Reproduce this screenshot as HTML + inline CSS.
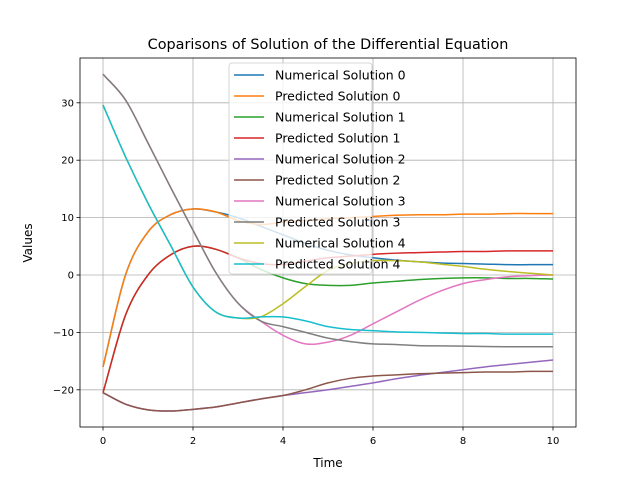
<!DOCTYPE html>
<html><head><meta charset="utf-8"><style>
body{margin:0;background:#fff;}
svg{display:block;font-family:"DejaVu Sans","Liberation Sans",sans-serif;}
</style></head><body>
<svg id="chart" width="640" height="480" viewBox="0 0 640 480">
<rect width="640" height="480" fill="#fff"/>
<text x="328" y="49" text-anchor="middle" font-size="14.4">Coparisons of Solution of the Differential Equation</text>
<g id="grid"></g><g id="series"></g><g id="axes"></g><g id="legend"></g>
<text x="328" y="467" text-anchor="middle" font-size="12">Time</text>
<text transform="translate(32,243) rotate(-90)" text-anchor="middle" font-size="12">Values</text>
</svg>
<script>
const times=[0,0.5,1,1.5,2,2.5,3,3.5,4,4.5,5,5.5,6,6.5,7,7.5,8,8.5,9,9.5,10];
const num0=[-16,0,7.5,10.5,11.5,11,10,8.5,7,5.5,4.3,3.5,3,2.6,2.3,2.1,2,1.9,1.8,1.8,1.8];
const pred0=[-16,0,7.5,10.5,11.5,11,9.5,8.8,9.2,9.5,9.8,10,10.2,10.4,10.5,10.5,10.6,10.6,10.7,10.7,10.7];
const num1=[-20.5,-7,0,3.5,5,4.5,3,1,-0.5,-1.5,-1.8,-1.8,-1.4,-1.1,-0.8,-0.6,-0.5,-0.5,-0.6,-0.6,-0.7];
const pred1=[-20.5,-7,0,3.5,5,4.5,3,2,1.8,2.4,3,3.3,3.6,3.8,3.9,4,4.1,4.1,4.2,4.2,4.2];
const num2=[-20.5,-22.5,-23.5,-23.7,-23.4,-23,-22.3,-21.6,-21,-20.5,-20,-19.4,-18.8,-18.1,-17.5,-17,-16.5,-16,-15.6,-15.2,-14.8];
const pred2=[-20.5,-22.5,-23.5,-23.7,-23.4,-23,-22.3,-21.6,-21,-20,-18.8,-18,-17.6,-17.4,-17.2,-17.1,-17,-16.9,-16.9,-16.8,-16.8];
const num3=[35,30.5,23,15.3,7.8,0.5,-4.9,-8,-10.5,-12,-11.7,-10.5,-8.5,-6.5,-4.5,-2.8,-1.5,-0.8,-0.3,-0.1,0];
const pred3=[35,30.5,23,15.3,7.8,0.5,-4.9,-8,-9,-10,-11,-11.6,-12,-12.1,-12.3,-12.35,-12.4,-12.45,-12.5,-12.5,-12.5];
const num4=[29.6,20.6,12.5,5.2,-2.1,-6.4,-7.5,-7.3,-5,-2,0.8,2,2.5,2.5,2.3,1.9,1.5,1.0,0.6,0.3,0];
const pred4=[29.6,20.6,12.5,5.2,-2.1,-6.4,-7.5,-7.3,-7.3,-8,-9,-9.5,-9.7,-9.9,-10,-10.1,-10.2,-10.2,-10.3,-10.3,-10.3];
const seriesNames=["Numerical Solution 0","Predicted Solution 0","Numerical Solution 1","Predicted Solution 1","Numerical Solution 2","Predicted Solution 2","Numerical Solution 3","Predicted Solution 3","Numerical Solution 4","Predicted Solution 4"];
const xTicks=[0,2,4,6,8,10];
const yTicks=[-20,-10,0,10,20,30];
const all=[num0,pred0,num1,pred1,num2,pred2,num3,pred3,num4,pred4];
const colors=["#1f77b4","#ff7f0e","#2ca02c","#d62728","#9467bd","#8c564b","#e377c2","#7f7f7f","#bcbd22","#17becf"];
const L=80,R=576,T=58,B=427;
const sx=v=>103+(v-0)*(553-103)/10;
const sy=v=>275-v*5.74;
const NS="http://www.w3.org/2000/svg";
function mk(tag,attrs,parent){const e=document.createElementNS(NS,tag);for(const k in attrs)e.setAttribute(k,attrs[k]);parent.appendChild(e);return e;}
const grid=document.getElementById('grid'),axes=document.getElementById('axes'),ser=document.getElementById('series'),leg=document.getElementById('legend');
xTicks.forEach(t=>{const x=sx(t);
 const g=mk('line',{x1:x,x2:x,y1:T,y2:B,stroke:'#b0b0b0','stroke-width':0.8},grid);
 
 mk('line',{x1:x,x2:x,y1:B,y2:B+3.5,stroke:'#000','stroke-width':0.8},axes);
 const tx=mk('text',{x:x,y:B+17,'text-anchor':'middle','font-size':10},axes);tx.textContent=t;
 });
yTicks.forEach(t=>{const y=sy(t);
 const g=mk('line',{x1:L,x2:R,y1:y,y2:y,stroke:'#b0b0b0','stroke-width':0.8},grid);
 
 mk('line',{x1:L-3.5,x2:L,y1:y,y2:y,stroke:'#000','stroke-width':0.8},axes);
 const tx=mk('text',{x:L-6,y:y+3.5,'text-anchor':'end','font-size':10},axes);tx.textContent=(t<0?'\u2212'+(-t):t);
 });
const frame=mk('rect',{x:L,y:T,width:R-L,height:B-T,fill:'none',stroke:'#000','stroke-width':0.8},axes);

function pathD(vals){const p=vals.map((v,i)=>[sx(times[i]),sy(v)]);let d='M'+p[0][0]+','+p[0][1];
 for(let i=0;i<p.length-1;i++){const p1=p[i],p2=p[i+1];
  const p0=i>0?p[i-1]:[2*p1[0]-p2[0],2*p1[1]-p2[1]];
  const p3=i+2<p.length?p[i+2]:[2*p2[0]-p1[0],2*p2[1]-p1[1]];
  const c1=[p1[0]+(p2[0]-p0[0])/6,p1[1]+(p2[1]-p0[1])/6],c2=[p2[0]-(p3[0]-p1[0])/6,p2[1]-(p3[1]-p1[1])/6];
  d+=' C'+c1+' '+c2+' '+p2;}return d;}
all.forEach((vals,i)=>{const e=mk('path',{d:pathD(vals),fill:'none',stroke:colors[i],'stroke-width':1.5},ser);
 
 });
const box=mk('rect',{x:229,y:63,width:143,height:211,rx:3,fill:'#fff','fill-opacity':0.8,stroke:'#ccc','stroke-width':0.8},leg);

seriesNames.forEach((n,i)=>{const y=75+i*21;
 const g=mk('g',{},leg);
 mk('line',{x1:234,x2:264,y1:y,y2:y,stroke:colors[i],'stroke-width':1.5},g);
 const t=mk('text',{x:275,y:y+4.5,'font-size':12.5},g);t.textContent=n;});
</script>
</body></html>
